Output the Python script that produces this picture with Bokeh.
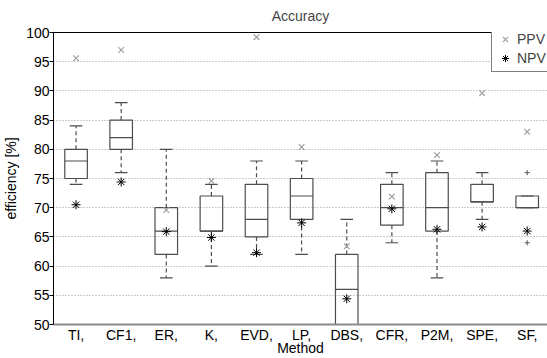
from bokeh.plotting import figure
from bokeh.models import Range1d, FixedTicker, Legend, LegendItem, LinearAxis
from bokeh.embed import file_html
from bokeh.resources import INLINE

# ---- data ----
methods = ["TI,", "CF1,", "ER,", "K,", "EVD,", "LP,", "DBS,", "CFR,", "P2M,", "SPE,", "SF,"]
lower_whisker = [74, 76, 58, 60, 62, 62, 44, 64, 58, 68, 70]
q1 = [75, 80, 62, 66, 65, 68, 48, 67, 66, 71, 70]
median = [78, 82, 66, 66, 68, 72, 56, 70, 70, 71, 70]
q3 = [80, 85, 70, 72, 74, 75, 62, 74, 76, 74, 72]
upper_whisker = [84, 88, 80, 74, 78, 78, 68, 76, 78, 76, 72]
ppv = [95.6, 97.0, 69.6, 74.6, 99.2, 80.4, 63.4, 71.9, 79.0, 89.6, 83.0]
npv = [70.5, 74.4, 65.9, 64.9, 62.3, 67.4, 54.4, 69.8, 66.3, 66.7, 66.0]
outlier_method = ["SF,", "SF,"]
outlier_value = [76, 64]
y_ticks = [50, 55, 60, 65, 70, 75, 80, 85, 90, 95, 100]

FONT = "Liberation Sans"
BOX = "#4d4d4d"
FS = "14px"

xpos = list(range(1, len(methods) + 1))
pos_of = {m: i for m, i in zip(methods, xpos)}
half_box = 0.25
half_cap = 0.14

p = figure(width=547, height=358, output_backend="svg", toolbar_location=None,
           x_range=Range1d(0.5, 11.45), y_range=Range1d(50, 100),
           min_border_left=53, min_border_right=0, min_border_top=32,
           min_border_bottom=34, title="Accuracy")
p.outline_line_color = None
p.background_fill_color = "white"
p.border_fill_color = "white"

# whiskers (dashed)
p.segment(x0=xpos, y0=q3, x1=xpos, y1=upper_whisker, line_color=BOX,
          line_width=1.2, line_dash="4 3")
p.segment(x0=xpos, y0=q1, x1=xpos, y1=lower_whisker, line_color=BOX,
          line_width=1.2, line_dash="4 3")
# caps
p.segment(x0=[x - half_cap for x in xpos], y0=upper_whisker,
          x1=[x + half_cap for x in xpos], y1=upper_whisker, line_color=BOX, line_width=1.2)
p.segment(x0=[x - half_cap for x in xpos], y0=lower_whisker,
          x1=[x + half_cap for x in xpos], y1=lower_whisker, line_color=BOX, line_width=1.2)
# boxes
p.quad(left=[x - half_box for x in xpos], right=[x + half_box for x in xpos],
       top=q3, bottom=q1, fill_color=None, line_color=BOX, line_width=1.2)
# medians
p.segment(x0=[x - half_box for x in xpos], y0=median,
          x1=[x + half_box for x in xpos], y1=median, line_color=BOX, line_width=1.2)
# outliers
p.scatter(x=[pos_of[m] for m in outlier_method], y=outlier_value, marker="cross",
          size=5, line_color="#555555", line_width=1)

r_ppv = p.scatter(x=xpos, y=ppv, marker="x", size=8, line_color="#9a9a9a", line_width=1.1)
r_npv = p.scatter(x=xpos, y=npv, marker="asterisk", size=9, line_color="black", line_width=1)

# axes
p.yaxis.ticker = FixedTicker(ticks=y_ticks)
p.yaxis.major_tick_out = 4
p.yaxis.major_tick_in = 0
p.yaxis.minor_tick_line_color = None
p.yaxis.axis_line_color = "black"
p.yaxis.major_tick_line_color = "black"
p.yaxis.major_label_standoff = 0
p.yaxis.axis_label = "efficiency [%]"
p.yaxis.axis_label_standoff = 4

p.xaxis.ticker = FixedTicker(ticks=xpos)
p.xaxis.major_label_overrides = {i: m for i, m in zip(xpos, methods)}
p.xaxis.major_tick_out = 0
p.xaxis.major_tick_in = 0
p.xaxis.minor_tick_line_color = None
p.xaxis.axis_line_color = "#8c8c8c"
p.xaxis.axis_line_width = 2
p.xaxis.major_label_standoff = 2
p.xaxis.axis_label = "Method"
p.xaxis.axis_label_standoff = -6

for ax in (p.xaxis[0], p.yaxis[0]):
    ax.major_label_text_font = FONT
    ax.major_label_text_font_size = FS
    ax.major_label_text_color = "black"
    ax.axis_label_text_font = FONT
    ax.axis_label_text_font_size = FS
    ax.axis_label_text_font_style = "normal"
    ax.axis_label_text_color = "black"

top_axis = LinearAxis(ticker=FixedTicker(ticks=[]), axis_line_color="black",
                      major_tick_in=0, major_tick_out=0, minor_tick_line_color=None,
                      major_label_text_font_size="0px")
p.add_layout(top_axis, "above")

p.ygrid.ticker = FixedTicker(ticks=y_ticks)
p.ygrid.grid_line_color = "#9a9a9a"
p.ygrid.grid_line_dash = "1 2"
p.ygrid.grid_line_width = 1
p.xgrid.visible = False

p.title.text_font = FONT
p.title.text_font_size = FS
p.title.text_font_style = "normal"
p.title.align = "center"
p.title.vertical_align = "top"
p.title.standoff = 14

legend = Legend(items=[LegendItem(label="PPV", renderers=[r_ppv]),
                       LegendItem(label="NPV", renderers=[r_npv])],
                location=(438, 252), padding=4, spacing=1, margin=0,
                glyph_width=18, glyph_height=18, label_height=18, label_standoff=3,
                label_text_font=FONT, label_text_font_size=FS,
                border_line_color="black", border_line_width=1,
                background_fill_color="white", background_fill_alpha=1)
p.add_layout(legend, "center")

open("out.html", "w").write(file_html(p, INLINE))
